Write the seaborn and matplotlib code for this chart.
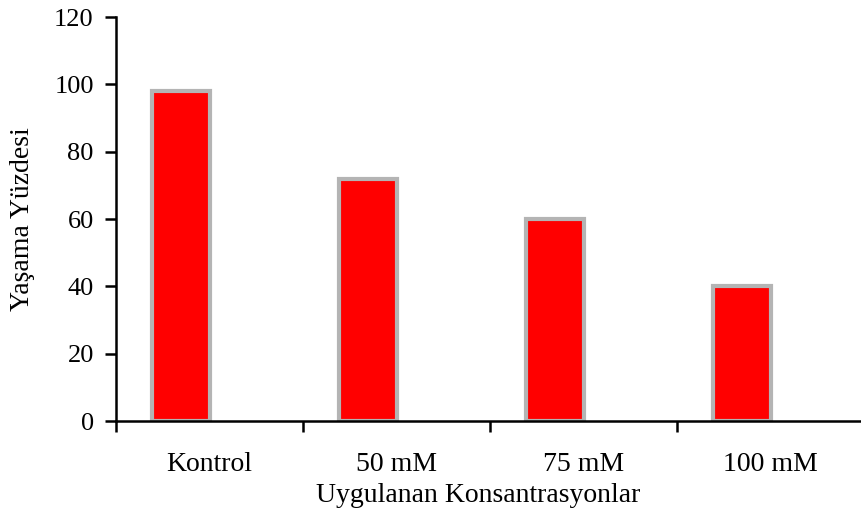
import matplotlib.pyplot as plt
import pandas as pd
import seaborn as sns

# Data
categories = ['Kontrol', '50 mM', '75 mM', '100 mM']
survival = [98, 72, 60, 40]

df = pd.DataFrame({'Konsantrasyon': categories, 'Yasama': survival, 'seri': 'A'})
# empty second series so the bars sit left of the category centre (as in the original)
empty = pd.DataFrame({'Konsantrasyon': categories, 'Yasama': [0] * 4, 'seri': 'B'})
df_all = pd.concat([df, empty], ignore_index=True)

sns.set_style("white")
plt.rcParams['font.family'] = ['Liberation Serif', 'DejaVu Serif']
plt.rcParams['font.size'] = 20
plt.rcParams['text.color'] = 'black'
plt.rcParams['axes.labelcolor'] = 'black'
plt.rcParams['xtick.color'] = 'black'
plt.rcParams['ytick.color'] = 'black'

fig = plt.figure(figsize=(8.61, 5.17), dpi=100)
ax = fig.add_axes([116 / 861, (517 - 421) / 517, (864 - 116) / 861, (421 - 17) / 517])

sns.barplot(data=df_all, x='Konsantrasyon', y='Yasama', hue='seri',
            hue_order=['A', 'B'], palette=['#ff0000', '#ff0000'], saturation=1,
            width=0.61, dodge=True, edgecolor='#b4b4b4', linewidth=3,
            legend=False, ax=ax)

# hide the empty series
for p in ax.patches[4:]:
    p.set_visible(False)

ax.set_xlim(-0.5, 3.5)
ax.set_ylim(0, 120)
ax.set_yticks(range(0, 121, 20))

# category boundaries as major ticks, labels on minor ticks at centres
ax.set_xticks([-0.5, 0.5, 1.5, 2.5, 3.5])
ax.set_xticklabels([])
ax.set_xticks(range(4), minor=True)
ax.set_xticklabels(categories, minor=True)
ax.tick_params(axis='x', which='major', direction='out', length=8, width=1.8,
               bottom=True, color='black')
ax.tick_params(axis='x', which='minor', length=0, pad=22, labelsize=20)
ax.tick_params(axis='y', direction='out', length=8, width=1.8, left=True,
               color='black', labelsize=19, pad=8)

for side in ['top', 'right']:
    ax.spines[side].set_visible(False)
for side in ['left', 'bottom']:
    ax.spines[side].set_linewidth(1.8)
    ax.spines[side].set_color('black')

ax.set_xlabel('Uygulanan Konsantrasyonlar', fontsize=20, labelpad=5)
ax.xaxis.label.set_x(0.484)
ax.set_ylabel('Yaşama Yüzdesi', fontsize=20, labelpad=14)

fig.savefig('out.png', dpi=100)
plt.close()
